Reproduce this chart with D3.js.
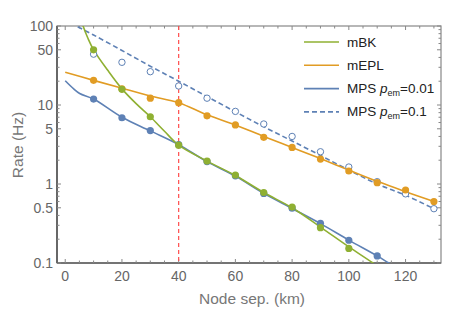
<!DOCTYPE html>
<html lang="en">
  <head>
    <meta charset="UTF-8" />
    <title>Rate vs node separation</title>
    <script src="https://cdn.jsdelivr.net/npm/d3@7"></script>
    <style>
      body { margin: 0; background: #fff; }
      text { font-family: "Liberation Sans", Arial, sans-serif; }
    </style>
  </head>
  <body>
    <div id="main-div"></div>
    <script>
      // points (x in km, rate in Hz)
      const sepPts = [10, 20, 30, 40, 50, 60, 70, 80, 90, 100, 110, 120, 130];
      const mbkPts = [50, 15.8, 7.1, 3.1, 1.95, 1.3, 0.78, 0.51, 0.28, 0.153];
      const meplPts = [20.5, 16, 12.2, 10.7, 7.3, 5.6, 3.9, 2.9, 2.07, 1.46, 1.04, 0.84, 0.6];
      const mps01Pts = [11.9, 6.9, 4.75, 3.15, 1.92, 1.27, 0.76, 0.495, 0.318, 0.194, 0.123];
      const mps1Pts = [44, 34.7, 26.4, 17.4, 12.2, 8.3, 5.75, 4.0, 2.56, 1.64, 1.07, 0.75, 0.487];

      // curves
      const mbkCurveX = [5.5, 6.3, 8, 10, 15, 20, 25, 30, 35, 40, 50, 60, 70, 80, 90, 100, 108.5, 112];
      const mbkCurveY = [125, 100, 70, 50, 27.5, 16, 10.4, 7.1, 4.65, 3.1, 1.95, 1.28, 0.78, 0.5, 0.285, 0.16, 0.1, 0.08];
      const meplCurveX = [0, 10, 20, 30, 40, 50, 60, 70, 80, 90, 100, 110, 120, 130];
      const meplCurveY = [26, 20.5, 16.3, 13, 10.7, 7.5, 5.6, 4.0, 2.9, 2.1, 1.5, 1.08, 0.8, 0.6];
      const mps01CurveX = [0, 3, 5.1, 10, 20, 30, 40, 50, 60, 70, 80, 90, 100, 110, 114.1, 118];
      const mps01CurveY = [20.3, 16, 14, 11.9, 7.0, 4.7, 3.15, 1.92, 1.26, 0.76, 0.49, 0.315, 0.195, 0.123, 0.1, 0.083];
      const mps1CurveX = [2, 3.9, 10, 20, 30, 40, 50, 60, 70, 80, 90, 100, 110, 120, 130];
      const mps1CurveY = [110, 100, 77, 49, 31, 20, 12.8, 8.2, 5.3, 3.5, 2.3, 1.5, 1.0, 0.72, 0.487];

      const xTicks = [0, 20, 40, 60, 80, 100, 120];
      const yTicks = [0.1, 0.5, 1, 5, 10, 50, 100];
      const legendNames = ["mBK", "mEPL", "MPS", "MPS"];
      const legendP = [null, null, "0.01", "0.1"];
      const markerLine = 40;

      const W = 463, H = 327;
      const pLeft = 57, pRight = 441, pTop = 26, pBottom = 263;
      const green = "#8fb032", orange = "#e19c24", blue = "#5e81b5";

      let svg = d3.select("#main-div").append("svg")
        .attr("width", W).attr("height", H);

      let x = d3.scaleLinear().domain([-2.9, 132.5]).range([pLeft, pRight]);
      let y = d3.scaleLog().domain([0.1, 100]).range([pBottom, pTop]);

      svg.append("clipPath").attr("id", "clip")
        .append("rect").attr("x", pLeft).attr("y", pTop)
        .attr("width", pRight - pLeft).attr("height", pBottom - pTop);

      // frame
      svg.append("rect").attr("x", pLeft).attr("y", pTop)
        .attr("width", pRight - pLeft).attr("height", pBottom - pTop)
        .attr("fill", "none").attr("stroke", "#888").attr("stroke-width", 1.2);
      svg.append("line").attr("x1", pLeft).attr("x2", pLeft).attr("y1", pTop).attr("y2", pBottom)
        .attr("stroke", "#333").attr("stroke-width", 1.2);
      svg.append("line").attr("x1", pLeft).attr("x2", pRight).attr("y1", pBottom).attr("y2", pBottom)
        .attr("stroke", "#333").attr("stroke-width", 1.2);

      // x ticks (inward on bottom and top)
      let xMinor = d3.range(0, 131, 5);
      xMinor.forEach((v) => {
        let major = v % 20 === 0;
        let len = major ? 4 : 2.5;
        svg.append("line").attr("x1", x(v)).attr("x2", x(v))
          .attr("y1", pBottom).attr("y2", pBottom - len).attr("stroke", "#888");
        svg.append("line").attr("x1", x(v)).attr("x2", x(v))
          .attr("y1", pTop).attr("y2", pTop + len).attr("stroke", "#888");
      });
      svg.selectAll(".xl").data(xTicks).enter().append("text")
        .attr("x", (d) => x(d)).attr("y", pBottom + 18)
        .attr("text-anchor", "middle").attr("font-size", 14).attr("fill", "#666")
        .text((d) => d);

      // y ticks (log)
      let yMinor = [];
      [0.1, 1, 10].forEach((dec) => {
        for (let k = 1; k <= 9; k++) yMinor.push(dec * k);
      });
      yMinor.push(100);
      yMinor.forEach((v) => {
        let major = yTicks.some((t) => Math.abs(t - v) < 1e-9);
        let len = major ? 4 : 2.5;
        svg.append("line").attr("x1", pLeft).attr("x2", pLeft + len)
          .attr("y1", y(v)).attr("y2", y(v)).attr("stroke", "#888");
        svg.append("line").attr("x1", pRight).attr("x2", pRight - len)
          .attr("y1", y(v)).attr("y2", y(v)).attr("stroke", "#888");
      });
      svg.selectAll(".yl").data(yTicks).enter().append("text")
        .attr("x", pLeft - 4).attr("y", (d) => y(d) + 5)
        .attr("text-anchor", "end").attr("font-size", 14).attr("fill", "#666")
        .text((d) => d);

      // axis titles
      svg.append("text").attr("transform", "translate(22.5,145) rotate(-90)")
        .attr("text-anchor", "middle").attr("font-size", 15.5).attr("fill", "#777")
        .text("Rate (Hz)");
      svg.append("text").attr("x", 252).attr("y", 304)
        .attr("text-anchor", "middle").attr("font-size", 15.5).attr("fill", "#777")
        .text("Node sep. (km)");

      let plot = svg.append("g").attr("clip-path", "url(#clip)");

      // red marker line
      plot.append("line").attr("x1", x(markerLine)).attr("x2", x(markerLine))
        .attr("y1", pTop).attr("y2", pBottom)
        .attr("stroke", "#ff4d4d").attr("stroke-width", 1.2).attr("stroke-dasharray", "4,3");

      let line = d3.line().x((d) => x(d[0])).y((d) => y(d[1])).curve(d3.curveCatmullRom.alpha(0.5));
      function drawCurve(xs, ys, color, dash) {
        plot.append("path").datum(d3.zip(xs, ys)).attr("d", line)
          .attr("fill", "none").attr("stroke", color).attr("stroke-width", 1.6)
          .attr("stroke-dasharray", dash || null);
      }
      drawCurve(mps1CurveX, mps1CurveY, blue, "5,3");
      drawCurve(mps01CurveX, mps01CurveY, blue);
      drawCurve(meplCurveX, meplCurveY, orange);
      drawCurve(mbkCurveX, mbkCurveY, green);

      function drawPts(vals, color, open) {
        plot.selectAll(null).data(vals.map((v, i) => [sepPts[i], v])).enter().append("circle")
          .attr("cx", (d) => x(d[0])).attr("cy", (d) => y(d[1])).attr("r", open ? 3.2 : 3.6)
          .attr("fill", open ? "#fff" : color).attr("stroke", color).attr("stroke-width", open ? 1 : 0);
      }
      drawPts(mps1Pts, blue, true);
      drawPts(mps01Pts, blue);
      drawPts(meplPts, orange);
      drawPts(mbkPts, green);

      // legend
      let legColors = [green, orange, blue, blue];
      let leg = svg.append("g");
      legendNames.forEach((name, i) => {
        let ly = 42 + i * 23.3;
        leg.append("line").attr("x1", 304).attr("x2", 339).attr("y1", ly).attr("y2", ly)
          .attr("stroke", legColors[i]).attr("stroke-width", 1.6)
          .attr("stroke-dasharray", i === 3 ? "5,3" : null);
        let t = leg.append("text").attr("x", 347).attr("y", ly + 4.5)
          .attr("font-size", 13.5).attr("fill", "#222");
        t.append("tspan").text(name);
        if (legendP[i]) {
          t.append("tspan").attr("font-style", "italic").text(" p");
          t.append("tspan").attr("font-size", 9).attr("dy", 3).text("em");
          t.append("tspan").attr("dy", -3).text("=" + legendP[i]);
        }
      });
    </script>
  </body>
</html>
